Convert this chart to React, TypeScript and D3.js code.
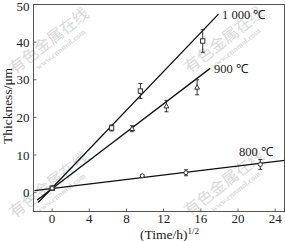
import React from "react";
import * as d3 from "d3";

const xTicks = [0, 4, 8, 12, 16, 20, 24];
const yTicks = [0, 10, 20, 30, 40, 50];

const s1000X = [0, 6.4, 9.5, 16.2];
const s1000Y = [1.2, 17.2, 27.0, 40.3];
const s1000E = [0.3, 0.8, 2.0, 3.0];
const s900X = [0, 8.6, 12.3, 15.6];
const s900Y = [1.2, 17.0, 23.0, 28.0];
const s900E = [0.3, 0.8, 1.5, 2.0];
const s800X = [0, 9.7, 14.4, 22.4];
const s800Y = [1.2, 4.5, 5.3, 7.5];
const s800E = [0.3, 0.3, 0.8, 1.3];

// fitted lines: [intercept, slope, xStart, xEnd]
const fit1000 = [1.26, 2.58, -1.5, 17.9];
const fit900 = [1.07, 1.88, -1.6, 17.0];
const fit800 = [1.09, 0.3, -1.9, 25];

const labels = ["1 000 ℃", "900 ℃", "800 ℃"];

export default function App() {
  const W = 285, H = 241;
  const left = 33.5, right = 284.5, top = 4.5, bottom = 211.5;
  const x = d3.scaleLinear().domain([-2, 25]).range([left, right]);
  const y = d3.scaleLinear().domain([-5, 50]).range([bottom, top]);
  const font = "'Liberation Serif', 'Times New Roman', serif";

  const fitLine = (f: number[]) => {
    const [b, m, x0, x1] = f;
    return d3.line<number>().x((v) => x(v)).y((v) => y(b + m * v))([x0, x1]) || "";
  };

  const errBars = (xs: number[], ys: number[], es: number[], key: string) =>
    xs.map((xv, i) => {
      const cx = x(xv), yt = y(ys[i] + es[i]), yb = y(ys[i] - es[i]);
      return (
        <g key={key + i} stroke="#222" strokeWidth={0.9}>
          <line x1={cx} x2={cx} y1={yt} y2={yb} />
          <line x1={cx - 2} x2={cx + 2} y1={yt} y2={yt} />
          <line x1={cx - 2} x2={cx + 2} y1={yb} y2={yb} />
        </g>
      );
    });

  const watermarks = [
    [53, 46],
    [228, 45],
    [53, 190],
    [228, 188],
  ];

  return (
    <svg width={W} height={H} style={{ position: "absolute", left: 0, top: 0, background: "#fff" }}>
      <rect x={0} y={0} width={W} height={H} fill="#fff" />
      {watermarks.map(([cx, cy], i) => (
        <g key={"wm" + i} transform={`translate(${cx},${cy}) rotate(-38)`} fill="#dadada" fontFamily="'Noto Sans CJK SC', sans-serif">
          <text x={0} y={-1} textAnchor="middle" fontSize={16}>有色金属在线</text>
          <text x={4} y={10} textAnchor="middle" fontSize={8} fontFamily={font} fontWeight="bold">www.cnnmol.com</text>
        </g>
      ))}
      <rect x={left} y={top} width={right - left} height={bottom - top} fill="none" stroke="#555" strokeWidth={1} />
      {xTicks.map((t) => (
        <g key={"xt" + t}>
          <line x1={x(t)} x2={x(t)} y1={bottom} y2={bottom - 3} stroke="#444" strokeWidth={0.8} />
          <text x={x(t)} y={bottom + 11.5} textAnchor="middle" fontSize={13} fontFamily={font} fill="#222">{t}</text>
        </g>
      ))}
      {yTicks.map((t) => (
        <g key={"yt" + t}>
          <line x1={left} x2={left + 3} y1={y(t)} y2={y(t)} stroke="#444" strokeWidth={0.8} />
          <text x={left - 4} y={Math.max(y(t) + 4.5, 11)} textAnchor="end" fontSize={13} fontFamily={font} fill="#222">{t}</text>
        </g>
      ))}
      <text transform={`translate(11.5,${(top + bottom) / 2 - 2}) rotate(-90)`} textAnchor="middle" fontSize={13.5} fontFamily={font} fill="#222">Thickness/μm</text>
      <text x={140} y={239} fontSize={13.5} fontFamily={font} fill="#222">
        (Time/h)<tspan dy={-5} fontSize={9}>1/2</tspan>
      </text>

      <path d={fitLine(fit1000)} stroke="#111" strokeWidth={1.3} fill="none" />
      <path d={fitLine(fit900)} stroke="#111" strokeWidth={1.3} fill="none" />
      <path d={fitLine(fit800)} stroke="#111" strokeWidth={1.3} fill="none" />

      {errBars(s1000X, s1000Y, s1000E, "e1")}
      {errBars(s900X, s900Y, s900E, "e2")}
      {errBars(s800X, s800Y, s800E, "e3")}

      {s1000X.map((xv, i) => (
        <rect key={"m1" + i} x={x(xv) - 2.2} y={y(s1000Y[i]) - 2.2} width={4.4} height={4.4} fill="#fff" stroke="#222" strokeWidth={0.9} />
      ))}
      {s900X.map((xv, i) => {
        const cx = x(xv), cy = y(s900Y[i]);
        return <path key={"m2" + i} d={`M${cx},${cy - 2.6}L${cx + 2.4},${cy + 1.8}L${cx - 2.4},${cy + 1.8}Z`} fill="#fff" stroke="#222" strokeWidth={0.9} />;
      })}
      {s800X.map((xv, i) => (
        <circle key={"m3" + i} cx={x(xv)} cy={y(s800Y[i])} r={2} fill="#fff" stroke="#222" strokeWidth={0.9} />
      ))}

      <text x={222} y={19} fontSize={12.5} fontFamily={font} fill="#222">{labels[0]}</text>
      <text x={214} y={73} fontSize={12.5} fontFamily={font} fill="#222">{labels[1]}</text>
      <text x={239} y={156} fontSize={12.5} fontFamily={font} fill="#222">{labels[2]}</text>
    </svg>
  );
}
